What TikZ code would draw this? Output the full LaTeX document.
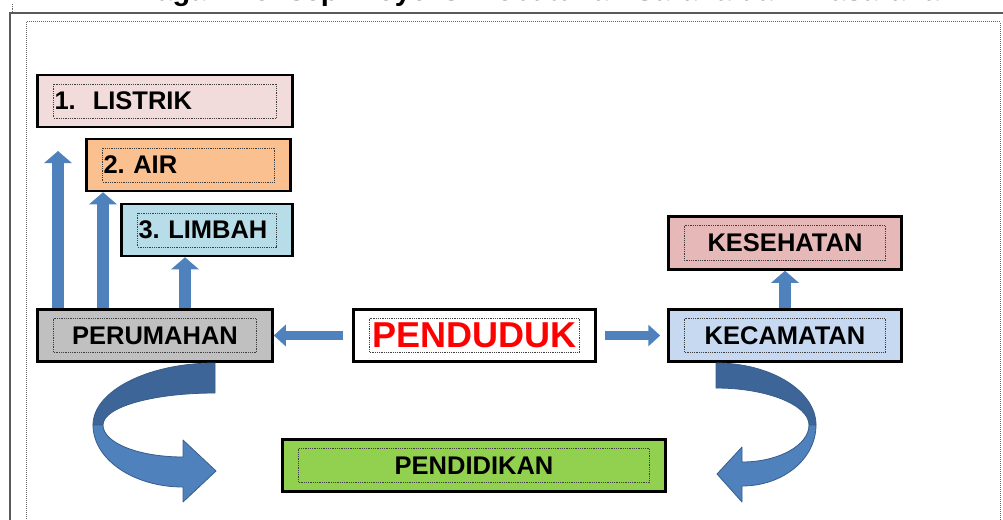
\documentclass[tikz,border=0pt]{standalone}
\usepackage{fontspec}
\setmainfont{Liberation Sans}
\usetikzlibrary{arrows.meta}
\frenchspacing
\definecolor{arrowblue}{RGB}{79,129,189}
\definecolor{arrowdark}{RGB}{62,101,152}
\definecolor{arrowedge}{RGB}{56,93,138}
\definecolor{listrikpink}{RGB}{242,220,219}
\definecolor{airorange}{RGB}{250,192,144}
\definecolor{limbahblue}{RGB}{183,222,232}
\definecolor{rumahgray}{RGB}{192,192,192}
\definecolor{camatblue}{RGB}{198,217,241}
\definecolor{sehatpink}{RGB}{230,185,184}
\definecolor{didikgreen}{RGB}{146,208,80}

\begin{document}
\begin{tikzpicture}[x=1pt, y=-1pt,
        % boxes with the dotted text frame inside
        box/.style={draw=black, line width=2.5pt, minimum height=52pt, inner xsep=17pt,
            font=\bfseries\fontsize{25.5}{30}\selectfont,
            path picture={\draw[densely dotted, line width=0.8pt, black!75]
                ([shift={(16pt,-9pt)}]path picture bounding box.north west) rectangle
                ([shift={(-16pt,9pt)}]path picture bounding box.south east);}},
        leftbox/.style={box, text width=#1, align=left},
        % block arrows
        blockarr/.style={line width=12pt, draw=arrowblue, -{Triangle[length=12pt, width=27pt]}},
        flatarr/.style={line width=9pt, draw=arrowblue, -{Triangle[length=12pt, width=21pt]}},
        bendlight/.style={fill=arrowblue, draw=arrowedge, line width=0.8pt, line join=round},
        benddark/.style={fill=arrowdark, draw=arrowedge, line width=0.8pt, line join=round}
    ]

    \useasboundingbox (0,0) rectangle (1003,519);
    \clip (0,0) rectangle (1003,519);

    % title, cut off by the page
    \node[anchor=base east, inner sep=0pt, font=\bfseries\fontsize{29}{34}\selectfont] (title) at (940,1)
        {Bagan Konsep Proyeksi Kebutuhan Sarana dan Prasarana};

    % frames
    \draw[black!65, line width=1.6pt] (10,13) rectangle (1020,540);
    \draw[densely dotted, black!60, line width=1pt] (26,22) rectangle (1000,540);
    \draw[densely dotted, black!60, line width=0.8pt] (12,4) -- (12,13);

    % boxes
    \node[leftbox=221pt, fill=listrikpink] (listrik) at (165,101) {1.~~LISTRIK};
    \node[leftbox=170pt, fill=airorange] (air) at (188.5,165) {2. AIR};
    \node[leftbox=137pt, fill=limbahblue] (limbah) at (207,230) {3. LIMBAH};
    \node[box, fill=rumahgray, minimum width=235pt] (perumahan) at (155,335.5) {PERUMAHAN};
    \node[box, fill=white, minimum width=242pt, text=red,
        font=\bfseries\fontsize{36}{40}\selectfont] (penduduk) at (474.5,335.5) {PENDUDUK};
    \node[box, fill=camatblue, minimum width=233pt] (kecamatan) at (785,335.5) {KECAMATAN};
    \node[box, fill=sehatpink, minimum width=233pt, minimum height=53pt] (kesehatan) at (785,243) {KESEHATAN};
    \node[box, fill=didikgreen, minimum width=383pt] (pendidikan) at (474,465.5) {PENDIDIKAN};

    % straight arrows
    \coordinate (listriktip) at (58,151);
    \coordinate (airx) at (103,0);
    \coordinate (limbahx) at (185,0);
    \draw[blockarr] (perumahan.north west -| listriktip) -- (listriktip);
    \draw[blockarr] (perumahan.north -| airx) -- (air.south -| airx);
    \draw[blockarr] (perumahan.north -| limbahx) -- (limbah.south -| limbahx);
    \draw[blockarr] (kecamatan.north) -- (kesehatan.south);
    \draw[flatarr] ([xshift=-9pt]penduduk.west) -- (perumahan.east);
    \draw[flatarr] ([xshift=8pt]penduduk.east) -- ([xshift=-7pt]kecamatan.west);

    % bent arrow, left
    \filldraw[benddark] (215,363) .. controls (148,363) and (93,391) .. (93,425)
        -- (103,425) .. controls (103,407) and (153,393) .. (215,393) -- cycle;
    \filldraw[bendlight] (93,425) .. controls (93,459) and (133,487) .. (183,487)
        -- (183,502) -- (216,471) -- (183,440) -- (183,457)
        .. controls (139,457) and (103,443) .. (103,425) -- cycle;

    % bent arrow, right
    \filldraw[benddark] (716,363) .. controls (771,363) and (816,391) .. (816,425)
        -- (809,425) .. controls (809,405) and (767,388) .. (716,388) -- cycle;
    \filldraw[bendlight] (816,425) .. controls (816,459) and (783,486) .. (742,486)
        -- (742,502) -- (717,474) -- (742,447) -- (742,462)
        .. controls (779,462) and (809,445) .. (809,425) -- cycle;

\end{tikzpicture}
\end{document}
